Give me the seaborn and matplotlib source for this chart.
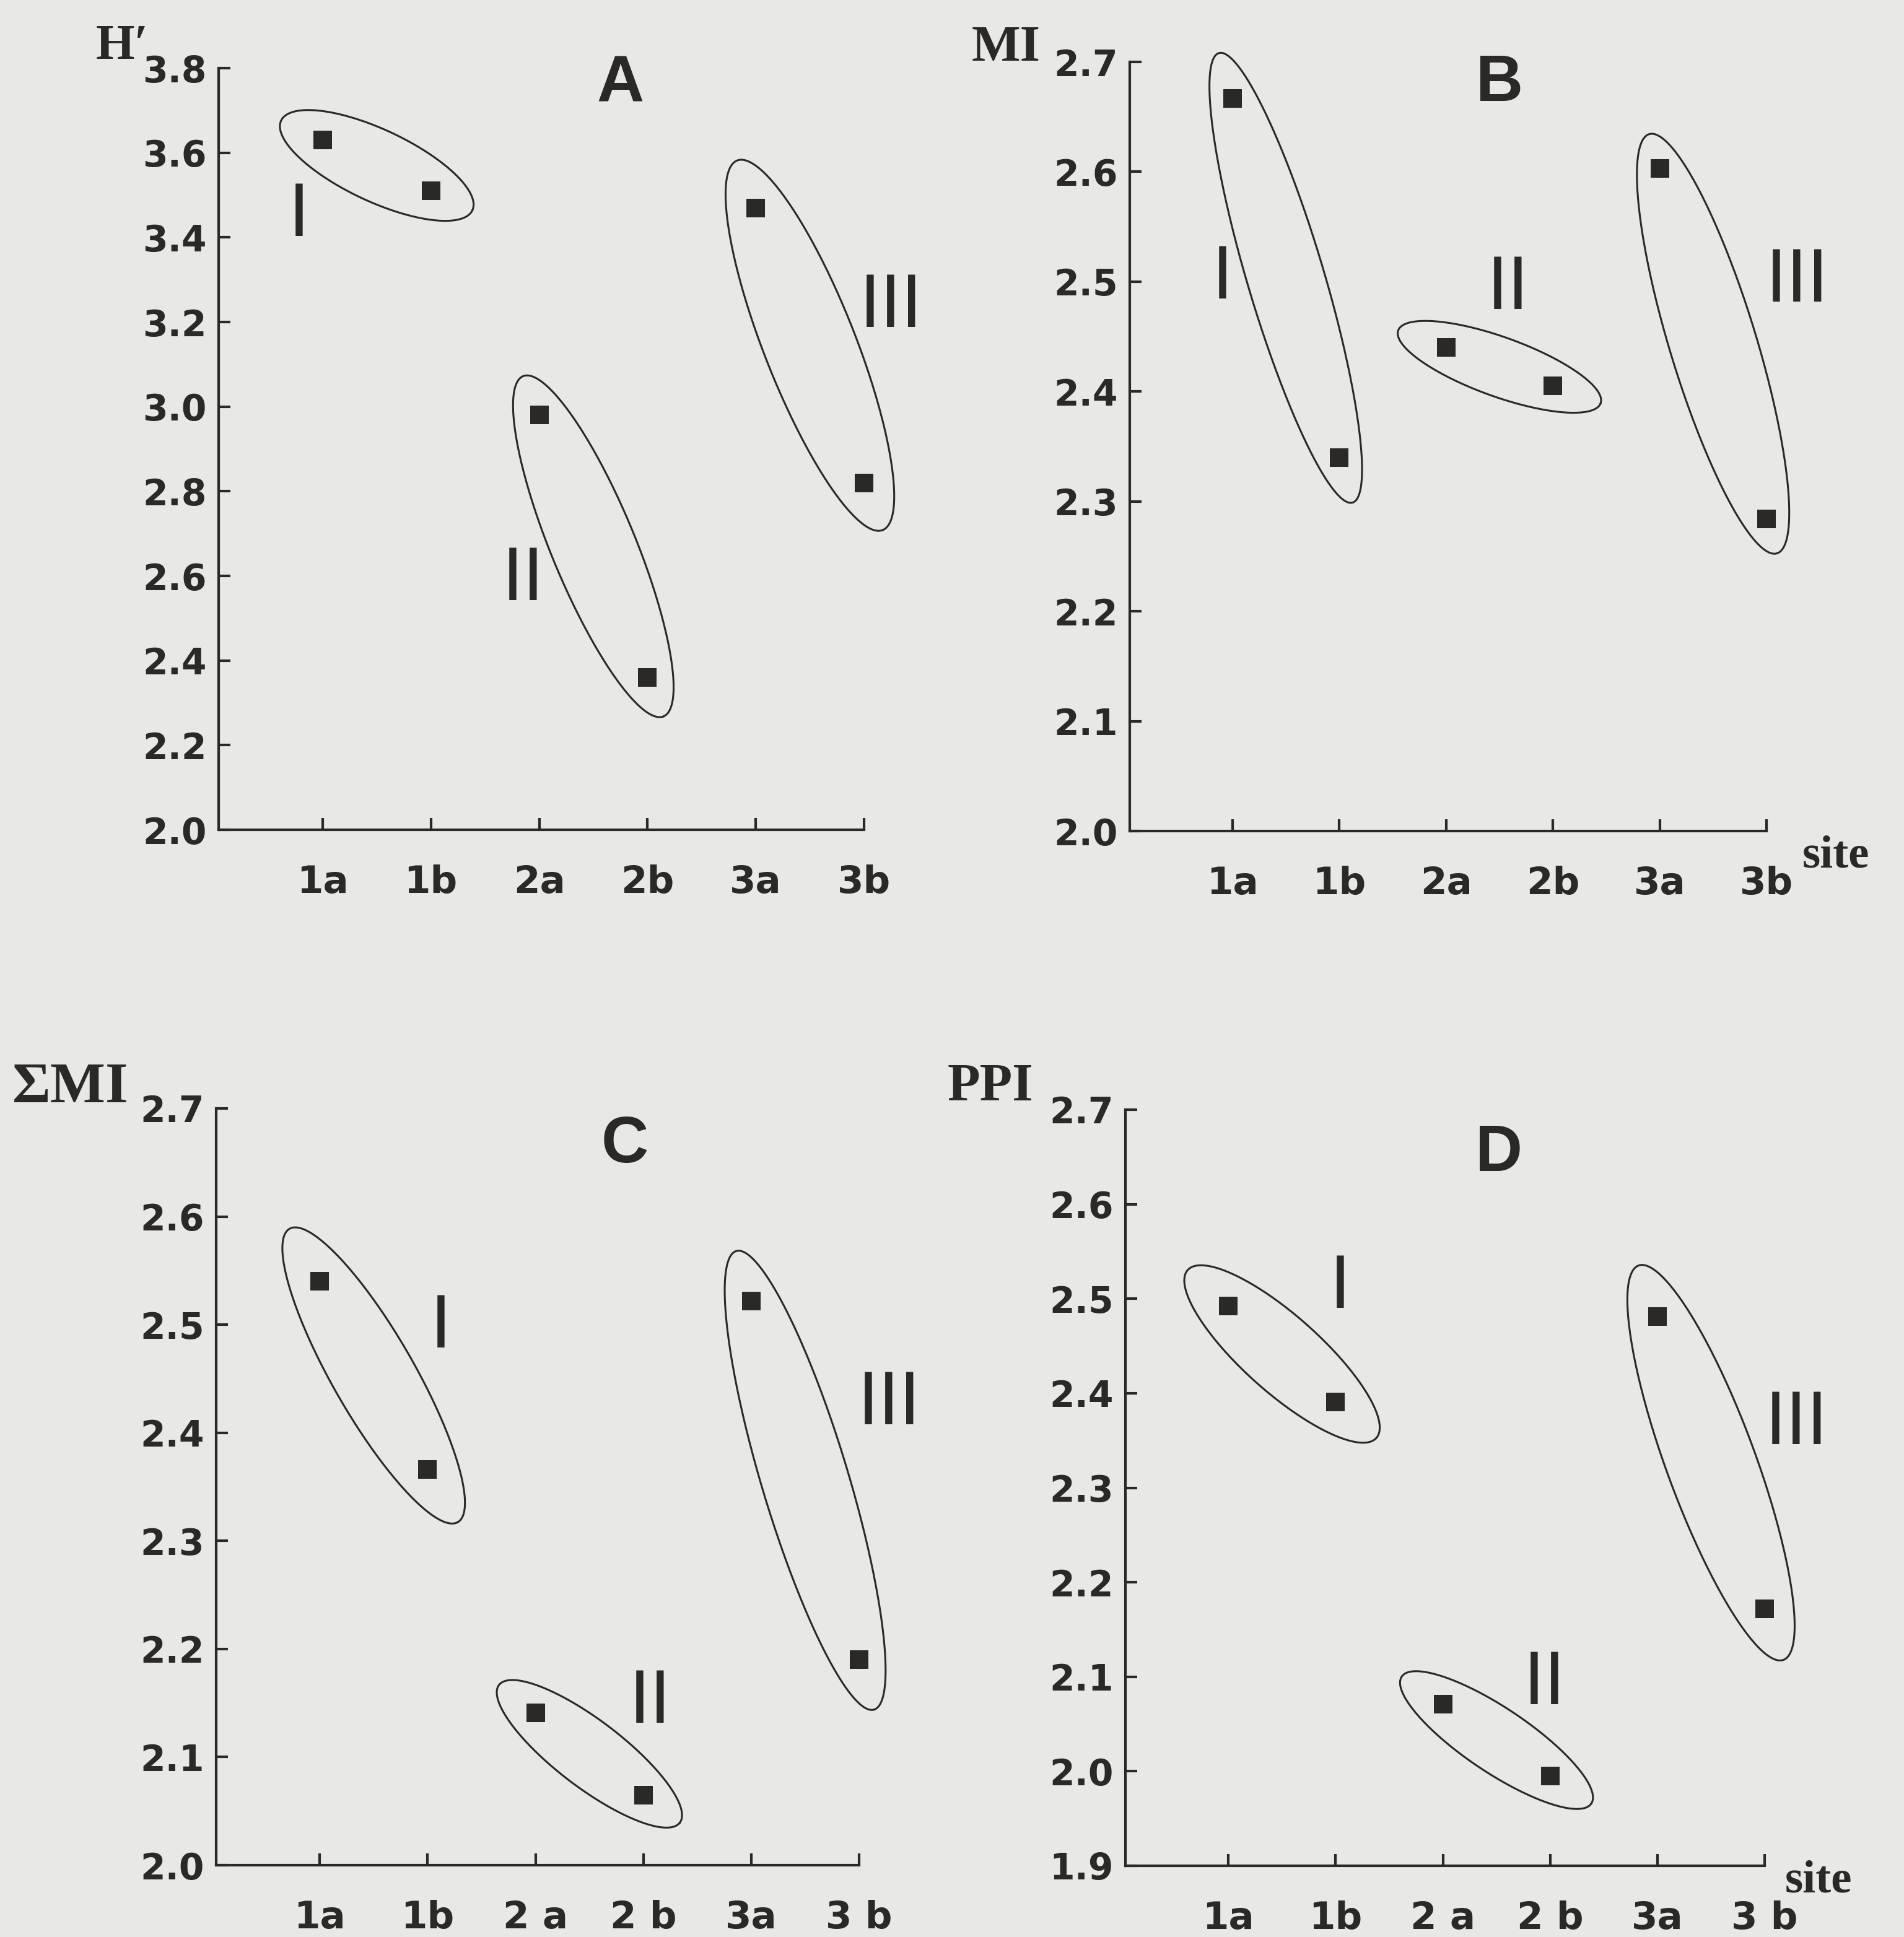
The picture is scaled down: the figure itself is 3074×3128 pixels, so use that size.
import numpy as np
import pandas as pd
import seaborn as sns
import matplotlib.pyplot as plt

# sites along the x axis
sites = ["1a", "1b", "2a", "2b", "3a", "3b"]

# values
h_div = [3.63, 3.51, 2.98, 2.36, 3.47, 2.82]      # A: H'
mi = [2.667, 2.34, 2.44, 2.405, 2.603, 2.284]     # B: MI
sum_mi = [2.54, 2.366, 2.141, 2.065, 2.522, 2.19]  # C: sum MI
ppi = [2.492, 2.391, 2.071, 1.995, 2.481, 2.172]   # D: PPI

# site pairs that form groups I, II, III
groups = [("1a", "1b"), ("2a", "2b"), ("3a", "3b")]
group_names = ["I", "II", "III"]

labels_ab = ["1a", "1b", "2a", "2b", "3a", "3b"]
labels_cd = ["1a", "1b", "2 a", "2 b", "3a", "3 b"]

INK = "#2b2828"
BG = "#e8e8e4"
DPI = 200
W, H = 3074, 3128

sns.set_style("ticks")
plt.rcParams["font.family"] = ["Liberation Sans", "DejaVu Sans"]

fig = plt.figure(figsize=(W / DPI, H / DPI), dpi=DPI, facecolor=BG)


def axes_px(left, right, top, bottom):
    return fig.add_axes([left / W, 1 - bottom / H, (right - left) / W, (bottom - top) / H])


# panel settings: axes box (px), y range, ticks, letter pos, group label pos, ellipse pad/half-width (px)
panels = [
    dict(box=(353, 1395, 110, 1340), vals=h_div, ylim=(2.0, 3.8),
         yticks=np.arange(2.0, 3.81, 0.2), xlabels=labels_ab,
         letter="A", letter_xy=(2.75, 3.76),
         glabel_xy=[(-0.22, 3.45), (1.85, 2.59), (5.25, 3.235)],
         ell=[(74, 58), (68, 68), (82, 74)]),
    dict(box=(1824, 2852, 100, 1342), vals=mi, ylim=(2.0, 2.7),
         yticks=np.arange(2.0, 2.71, 0.1), xlabels=labels_ab,
         letter="B", letter_xy=(2.5, 2.68),
         glabel_xy=[(-0.09, 2.503), (2.58, 2.493), (5.29, 2.5)],
         ell=[(76, 62), (82, 48), (58, 70)]),
    dict(box=(349, 1387, 1790, 3012), vals=sum_mi, ylim=(2.0, 2.7),
         yticks=np.arange(2.0, 2.71, 0.1), xlabels=labels_cd,
         letter="C", letter_xy=(2.83, 2.666),
         glabel_xy=[(1.12, 2.497), (3.06, 2.15), (5.28, 2.426)],
         ell=[(98, 66), (74, 54), (84, 70)]),
    dict(box=(1817, 2849, 1792, 3013), vals=ppi, ylim=(1.9, 2.7),
         yticks=np.arange(1.9, 2.71, 0.1), xlabels=labels_cd,
         letter="D", letter_xy=(2.52, 2.653),
         glabel_xy=[(1.04, 2.511), (2.95, 2.092), (5.3, 2.367)],
         ell=[(88, 62), (80, 52), (88, 72)]),
]

tick_font = ["DejaVu Sans"]

for p in panels:
    ax = axes_px(*p["box"])
    ax.set_facecolor("none")
    df = pd.DataFrame({"site": sites, "value": p["vals"]})
    sns.scatterplot(data=df, x="site", y="value", marker="s", s=110,
                    color=INK, edgecolor=INK, linewidth=0, ax=ax, zorder=3,
                    clip_on=False)
    ax.set_xlim(-0.96, 5)
    ax.set_ylim(*p["ylim"])
    ax.set_xlabel("")
    ax.set_ylabel("")
    sns.despine(ax=ax)
    for side in ("left", "bottom"):
        ax.spines[side].set_linewidth(1.5)
        ax.spines[side].set_color(INK)
    ax.set_xticks(range(len(sites)))
    ax.set_xticklabels(p["xlabels"])
    ax.set_yticks(p["yticks"])
    ax.set_yticklabels([f"{v:.1f}" for v in p["yticks"]])
    ax.tick_params(axis="both", direction="in", length=7, width=1.5, color=INK,
                   labelcolor=INK)
    ax.tick_params(axis="x", pad=20, labelsize=22)
    ax.tick_params(axis="y", pad=7, labelsize=21)
    for t in ax.get_xticklabels() + ax.get_yticklabels():
        t.set_fontweight("bold")
        t.set_family(tick_font)

    # ellipses around each pair, built in pixel space so they keep their shape
    for (s1, s2), (pad, half_w) in zip(groups, p["ell"]):
        i1, i2 = sites.index(s1), sites.index(s2)
        pts = ax.transData.transform([(i1, p["vals"][i1]), (i2, p["vals"][i2])])
        c = pts.mean(axis=0)
        d = pts[1] - pts[0]
        half_len = np.hypot(*d) / 2 + pad
        u = d / np.hypot(*d)
        n = np.array([-u[1], u[0]])
        t = np.linspace(0, 2 * np.pi, 300)
        curve = c + np.outer(half_len * np.cos(t), u) + np.outer(half_w * np.sin(t), n)
        data_curve = ax.transData.inverted().transform(curve)
        ax.plot(data_curve[:, 0], data_curve[:, 1], color=INK, lw=1.1, clip_on=False)

    for name, (gx, gy) in zip(group_names, p["glabel_xy"]):
        ax.text(gx, gy, name, fontsize=44, color=INK, ha="center", va="center",
                family=["Liberation Sans", "DejaVu Sans"])
    ax.text(*p["letter_xy"], p["letter"], fontsize=38, fontweight="bold", color=INK,
            ha="center", va="center")

serif = ["Liberation Serif", "DejaVu Serif"]
fig.text(155 / W, 1 - 95 / H, "H\u2032", fontsize=29, fontweight="bold", color=INK, family=serif)
fig.text(1569 / W, 1 - 98 / H, "MI", fontsize=30, fontweight="bold", color=INK, family=serif)
fig.text(20 / W, 1 - 1780 / H, "\u03a3MI", fontsize=34, fontweight="bold", color=INK, family=serif)
fig.text(1530 / W, 1 - 1777 / H, "PPI", fontsize=31, fontweight="bold", color=INK, family=serif)
fig.text(2910 / W, 1 - 1400 / H, "site", fontsize=27, fontweight="bold", color=INK, family=serif)
fig.text(2882 / W, 1 - 3055 / H, "site", fontsize=27, fontweight="bold", color=INK, family=serif)

fig.savefig("out.png", dpi=DPI, facecolor=BG)
